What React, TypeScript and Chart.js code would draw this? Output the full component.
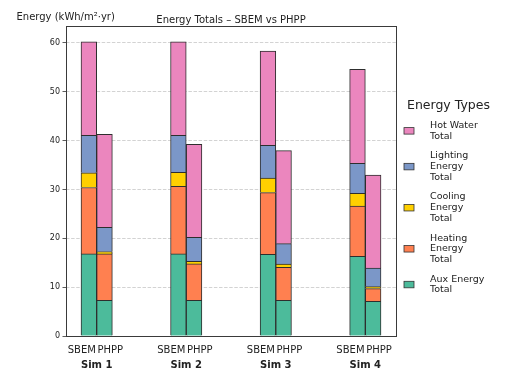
import { useEffect, useRef } from 'react';
import { Chart, registerables } from 'chart.js';

Chart.register(...registerables);

// Simulations and the two calculation methods compared for each one
const SIMULATIONS = ['Sim 1', 'Sim 2', 'Sim 3', 'Sim 4'];
const SOURCES = ['SBEM', 'PHPP'];

// Energy types, bottom of the stack first
const ENERGY_TYPES = [
  'Aux Energy Total',
  'Heating Energy Total',
  'Cooling Energy Total',
  'Lighting Energy Total',
  'Hot Water Total',
];

// kWh/m²·yr per simulation
const AUX_SBEM = [16.8, 16.8, 16.7, 16.3];
const AUX_PHPP = [7.3, 7.3, 7.3, 7.1];
const HEATING_SBEM = [13.6, 13.85, 12.65, 10.3];
const HEATING_PHPP = [9.5, 7.45, 6.75, 2.6];
const COOLING_SBEM = [3.0, 2.85, 2.95, 2.6];
const COOLING_PHPP = [0.5, 0.55, 0.65, 0.4];
const LIGHTING_SBEM = [7.7, 7.6, 6.75, 6.15];
const LIGHTING_PHPP = [4.95, 4.9, 4.2, 3.8];
const HOT_WATER_SBEM = [19.1, 19.1, 19.25, 19.25];
const HOT_WATER_PHPP = [19.05, 19.05, 19.05, 19.05];

const Y_TICKS = [0, 10, 20, 30, 40, 50, 60];

const TITLE = 'Energy Totals – SBEM vs PHPP';
const Y_LABEL = 'Energy (kWh/m²·yr)';
const LEGEND_TITLE = 'Energy Types';

const SERIES = [
  { values: [AUX_SBEM, AUX_PHPP], color: '#4cbb9b' },
  { values: [HEATING_SBEM, HEATING_PHPP], color: '#ff8050' },
  { values: [COOLING_SBEM, COOLING_PHPP], color: '#ffd000' },
  { values: [LIGHTING_SBEM, LIGHTING_PHPP], color: '#7b97c8' },
  { values: [HOT_WATER_SBEM, HOT_WATER_PHPP], color: '#eb86be' },
];

const FONT = '"DejaVu Sans", sans-serif';
const BAR_WIDTH = 0.175; // in category units
const X_MIN = -BAR_WIDTH - 0.1675;
const X_MAX = SIMULATIONS.length - 1 + BAR_WIDTH + 0.1675;

// greedy word wrap for legend labels
function wrap(text: string, width: number): string[] {
  const lines: string[] = [];
  let line = '';
  for (const word of text.split(' ')) {
    const next = line ? line + ' ' + word : word;
    if (next.length > width && line) {
      lines.push(line);
      line = word;
    } else {
      line = next;
    }
  }
  if (line) lines.push(line);
  return lines;
}

const decorations = {
  id: 'decorations',
  afterDatasetsDraw(chart: any) {
    const { ctx, chartArea: a } = chart;
    ctx.save();
    ctx.strokeStyle = '#3a3a3a';
    ctx.lineWidth = 1;
    ctx.strokeRect(a.left + 0.5, a.top - 0.5, a.right - a.left, a.bottom - a.top + 1);
    ctx.restore();
  },
  afterDraw(chart: any) {
    const { ctx, chartArea: a, scales } = chart;
    const xs = scales.x;
    ctx.save();
    ctx.fillStyle = '#222';

    // title and axis label
    ctx.font = `10px ${FONT}`;
    ctx.textBaseline = 'alphabetic';
    ctx.textAlign = 'center';
    ctx.fillText(TITLE, (a.left + a.right) / 2, 22.5);
    ctx.textAlign = 'left';
    ctx.fillText(Y_LABEL, 16.5, 19.5);

    // category labels
    SIMULATIONS.forEach((sim, i) => {
      const cx = xs.getPixelForValue(i);
      ctx.font = `10px ${FONT}`;
      ctx.textAlign = 'right';
      ctx.fillText(SOURCES[0], cx - 0.8, 353);
      ctx.textAlign = 'left';
      ctx.fillText(SOURCES[1], cx + 0.8, 353);
      ctx.font = `bold 10px ${FONT}`;
      ctx.textAlign = 'center';
      ctx.fillText(sim, cx, 367.5);
    });

    // legend, top of the stack first
    ctx.textAlign = 'left';
    ctx.font = `12.5px ${FONT}`;
    ctx.fillText(LEGEND_TITLE, 407, 108.5);
    ctx.font = `9.5px ${FONT}`;
    ctx.textBaseline = 'middle';
    const lineStep = 10.7;
    const gap = 9;
    let y = 125.5;
    const items = [...chart.data.datasets].reverse();
    for (const ds of items) {
      const lines = wrap(ds.label, 10);
      const mid = y + ((lines.length - 1) * lineStep) / 2;
      ctx.fillStyle = ds.backgroundColor;
      ctx.fillRect(404, mid - 3.25, 10, 6.5);
      ctx.strokeStyle = '#333';
      ctx.lineWidth = 0.8;
      ctx.strokeRect(404, mid - 3.25, 10, 6.5);
      ctx.fillStyle = '#222';
      lines.forEach((ln, k) => ctx.fillText(ln, 430, y + k * lineStep));
      y += (lines.length - 1) * lineStep + lineStep + gap;
    }
    ctx.restore();
  },
};

export default function App() {
  const canvasRef = useRef<HTMLCanvasElement | null>(null);

  useEffect(() => {
    const canvas = canvasRef.current;
    if (!canvas) return;
    const half = BAR_WIDTH / 2;
    const datasets = SERIES.map((s, k) => ({
      label: ENERGY_TYPES[k],
      data: SIMULATIONS.flatMap((_, i) => [
        { x: i - half, y: s.values[0][i] },
        { x: i + half, y: s.values[1][i] },
      ]),
      backgroundColor: s.color,
      borderColor: '#2e2e2e',
      borderWidth: 1,
      stack: 'energy',
      categoryPercentage: 1,
      barPercentage: 1,
    }));

    const chart = new Chart(canvas, {
      type: 'bar',
      data: { datasets },
      plugins: [decorations],
      options: {
        animation: false,
        responsive: true,
        maintainAspectRatio: false,
        layout: { padding: { top: 27, right: 118, left: 0, bottom: 0 } },
        plugins: {
          legend: { display: false },
          tooltip: { enabled: false },
        },
        scales: {
          x: {
            type: 'linear',
            min: X_MIN,
            max: X_MAX,
            offset: false,
            stacked: true,
            grid: { display: false },
            border: { display: false },
            ticks: { display: false },
            afterBuildTicks: (scale: any) => {
              scale.ticks = SIMULATIONS.map((_, i) => ({ value: i }));
            },
            afterFit: (scale: any) => {
              scale.height = 42;
            },
          },
          y: {
            type: 'linear',
            stacked: true,
            min: 0,
            max: 63.25,
            border: { display: false, dash: [3.5, 1.6] },
            grid: {
              color: '#c8c8c8',
              lineWidth: 0.8,
              tickLength: 3.5,
              tickColor: '#333',
              tickWidth: 0.8,
            },
            ticks: {
              includeBounds: false,
              padding: 2.5,
              color: '#222',
              font: { family: FONT, size: 8 },
            },
            afterBuildTicks: (scale: any) => {
              scale.ticks = Y_TICKS.map((v) => ({ value: v }));
            },
            afterFit: (scale: any) => {
              scale.width = 66;
            },
          },
        },
      } as any,
    });
    return () => chart.destroy();
  }, []);

  return (
    <div style={{ position: 'fixed', left: 0, top: 0, width: 514, height: 378, background: '#fff' }}>
      <canvas ref={canvasRef} />
    </div>
  );
}
